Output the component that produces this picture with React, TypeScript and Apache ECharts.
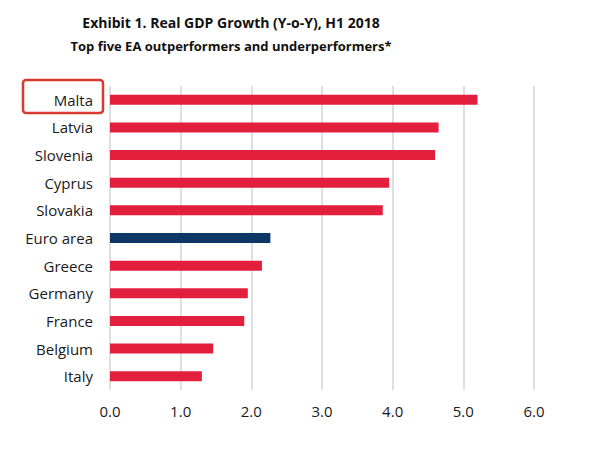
import React, { useEffect, useRef } from "react";
import * as echarts from "echarts";

const countries = ["Malta", "Latvia", "Slovenia", "Cyprus", "Slovakia", "Euro area", "Greece", "Germany", "France", "Belgium", "Italy"];
const growth = [5.2, 4.65, 4.6, 3.95, 3.86, 2.27, 2.15, 1.95, 1.9, 1.46, 1.3];
const highlight = "Euro area";
const titleLine1 = "Exhibit 1. Real GDP Growth (Y-o-Y), H1 2018";
const titleLine2 = "Top five EA outperformers and underperformers*";

const RED = "#e21f3d";
const NAVY = "#0d3866";
const FONT = "'Open Sans', 'Noto Sans', sans-serif";

export default function App() {
  const ref = useRef<HTMLDivElement>(null);
  useEffect(() => {
    if (!ref.current) return;
    const chart = echarts.init(ref.current, null, { renderer: "svg" });
    const cats = countries.slice().reverse();
    const vals = growth.slice().reverse();
    chart.setOption({
      animation: false,
      backgroundColor: "#ffffff",
      grid: { left: 110, right: 66, top: 86, bottom: 70, containLabel: false },
      xAxis: {
        type: "value",
        min: 0,
        max: 6,
        interval: 1,
        axisLine: { show: false },
        axisTick: { show: false },
        splitLine: { show: true, lineStyle: { color: "#d4d4d4", width: 1.5 } },
        axisLabel: {
          formatter: (v: number) => v.toFixed(1),
          fontFamily: FONT,
          fontSize: 15,
          color: "#1a1a1a",
          margin: 13,
        },
      },
      yAxis: {
        type: "category",
        data: cats,
        axisLine: { show: false },
        axisTick: { show: false },
        axisLabel: { fontFamily: FONT, fontSize: 15, color: "#1a1a1a", margin: 17 },
      },
      series: [
        {
          type: "bar",
          data: vals.map((v, i) => ({ value: v, itemStyle: { color: cats[i] === highlight ? NAVY : RED } })),
          barWidth: 10,
        },
      ],
      graphic: [
        {
          type: "text",
          x: 231,
          y: 22,
          style: {
            text: titleLine1,
            fontFamily: FONT,
            fontSize: 14,
            fontWeight: "bold",
            fill: "#111",
            align: "center",
            verticalAlign: "middle",
          },
        },
        {
          type: "text",
          x: 231,
          y: 46,
          style: {
            text: titleLine2,
            fontFamily: FONT,
            fontSize: 13,
            fontWeight: "bold",
            fill: "#111",
            align: "center",
            verticalAlign: "middle",
          },
        },
        {
          type: "rect",
          shape: { x: 23, y: 80, width: 80, height: 33, r: 3 },
          style: { fill: "none", stroke: "#d63a30", lineWidth: 2.5 },
        },
      ],
    });
    return () => chart.dispose();
  }, []);
  return <div ref={ref} style={{ position: "fixed", left: 0, top: 0, width: 600, height: 460 }} />;
}
